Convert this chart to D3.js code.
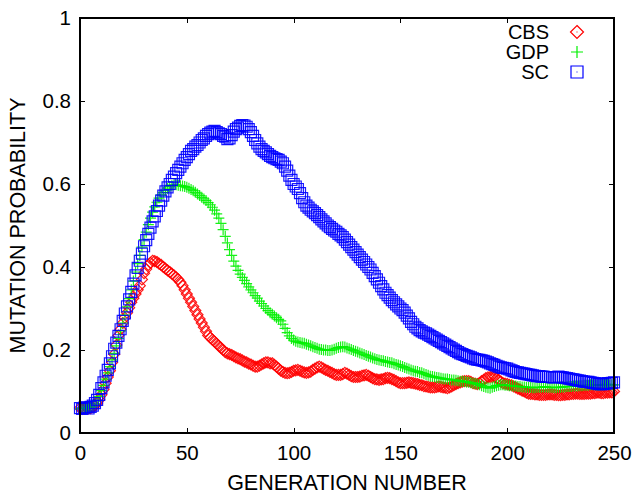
<!DOCTYPE html>
<html>
<head>
<meta charset="utf-8">
<script src="https://cdn.jsdelivr.net/npm/d3@7"></script>
<style>
  html, body { margin: 0; padding: 0; background: #fff; }
  svg { display: block; }
  text { font-family: "Liberation Sans", Arial, Helvetica, sans-serif; fill: #000; }
</style>
</head>
<body>
<svg id="chart" width="637" height="494"></svg>
<script>
// ---------------- DATA ----------------
const generations = d3.range(0, 251); // generation numbers 0..250

const cbs = [
  .060,.058,.060,.061,.059,.060,.062,.066,.072,.080,
  .092,.105,.120,.135,.150,.170,.190,.212,.235,.250,
  .265,.278,.290,.302,.315,.325,.335,.345,.355,.370,
  .385,.395,.405,.410,.415,.414,.412,.408,.405,.400,
  .396,.392,.388,.384,.380,.375,.370,.363,.355,.345,
  .335,.325,.315,.305,.295,.285,.275,.265,.255,.245,
  .235,.230,.225,.220,.215,.210,.205,.200,.195,.192,
  .190,.188,.185,.182,.180,.178,.175,.172,.170,.167,
  .165,.162,.160,.160,.162,.165,.168,.170,.170,.168,
  .168,.164,.160,.155,.150,.147,.145,.144,.145,.147,
  .150,.151,.152,.150,.148,.146,.145,.146,.148,.152,
  .155,.158,.160,.158,.155,.152,.150,.147,.145,.142,
  .140,.140,.140,.142,.145,.143,.140,.137,.135,.135,
  .135,.136,.138,.139,.140,.138,.135,.132,.130,.129,
  .128,.129,.130,.132,.133,.132,.130,.128,.125,.122,
  .120,.120,.120,.121,.122,.121,.120,.119,.118,.116,
  .115,.113,.112,.111,.110,.110,.110,.111,.112,.111,
  .110,.109,.108,.110,.112,.115,.118,.120,.122,.124,
  .125,.125,.125,.123,.120,.119,.118,.120,.125,.128,
  .132,.134,.135,.135,.135,.132,.128,.124,.120,.119,
  .118,.116,.115,.112,.110,.107,.105,.102,.100,.097,
  .095,.094,.094,.093,.093,.092,.092,.092,.092,.093,
  .093,.093,.092,.092,.091,.091,.092,.092,.093,.093,
  .094,.094,.095,.095,.094,.094,.094,.095,.095,.095,
  .096,.096,.097,.097,.096,.096,.097,.097,.098,.098,
  .100
];

const gdp = [
  .058,.060,.062,.059,.061,.063,.065,.070,.078,.088,
  .102,.115,.130,.145,.160,.176,.192,.210,.228,.246,
  .265,.284,.304,.324,.345,.366,.388,.408,.428,.448,
  .466,.484,.502,.518,.532,.545,.556,.566,.574,.580,
  .585,.590,.594,.596,.598,.598,.597,.596,.595,.594,
  .592,.590,.587,.584,.580,.576,.572,.568,.564,.560,
  .555,.550,.544,.537,.528,.518,.505,.490,.474,.458,
  .442,.428,.414,.402,.392,.383,.375,.368,.360,.352,
  .345,.338,.331,.325,.318,.312,.306,.300,.295,.290,
  .286,.282,.278,.274,.270,.262,.252,.242,.234,.228,
  .224,.221,.219,.218,.217,.216,.214,.212,.210,.208,
  .206,.204,.202,.201,.200,.200,.199,.199,.200,.202,
  .204,.206,.207,.208,.207,.205,.203,.201,.199,.197,
  .195,.193,.191,.189,.187,.185,.183,.181,.179,.177,
  .176,.175,.174,.172,.171,.170,.169,.167,.165,.164,
  .162,.160,.158,.156,.154,.152,.150,.149,.148,.146,
  .145,.143,.141,.139,.137,.136,.135,.134,.133,.132,
  .131,.130,.130,.129,.128,.128,.127,.126,.125,.125,
  .124,.123,.122,.121,.120,.119,.118,.116,.114,.112,
  .110,.109,.108,.110,.112,.114,.115,.116,.116,.115,
  .115,.114,.114,.113,.113,.112,.112,.111,.111,.110,
  .110,.110,.109,.109,.110,.110,.110,.111,.111,.110,
  .110,.110,.109,.109,.110,.110,.111,.111,.112,.112,
  .112,.113,.113,.113,.114,.114,.115,.115,.115,.116,
  .116,.116,.115,.115,.116,.116,.117,.117,.116,.116,
  .116
];

const sc = [
  .060,.058,.061,.062,.059,.063,.066,.072,.080,.092,
  .108,.122,.138,.152,.168,.185,.203,.218,.234,.250,
  .270,.288,.305,.322,.340,.360,.380,.398,.415,.432,
  .450,.465,.480,.495,.510,.522,.535,.548,.560,.572,
  .582,.592,.600,.610,.618,.626,.634,.642,.650,.658,
  .665,.672,.680,.684,.690,.694,.700,.706,.710,.716,
  .720,.724,.726,.728,.725,.722,.720,.716,.714,.708,
  .710,.718,.726,.732,.736,.740,.742,.741,.738,.732,
  .725,.716,.706,.698,.690,.684,.680,.676,.672,.668,
  .665,.662,.660,.658,.654,.650,.642,.632,.620,.610,
  .600,.594,.588,.578,.566,.556,.548,.543,.538,.534,
  .530,.525,.520,.515,.510,.505,.500,.496,.492,.488,
  .485,.480,.476,.472,.466,.460,.454,.448,.442,.436,
  .430,.424,.418,.412,.406,.400,.394,.386,.378,.370,
  .362,.354,.346,.338,.332,.326,.320,.315,.310,.305,
  .300,.296,.290,.283,.276,.268,.262,.256,.252,.248,
  .245,.242,.240,.237,.234,.231,.228,.225,.222,.219,
  .216,.213,.210,.207,.204,.201,.198,.195,.192,.190,
  .188,.186,.184,.182,.180,.178,.177,.176,.175,.174,
  .172,.170,.168,.166,.164,.162,.160,.158,.157,.156,
  .155,.153,.151,.149,.147,.146,.145,.144,.143,.142,
  .141,.140,.139,.138,.137,.137,.136,.136,.135,.135,
  .135,.134,.134,.135,.136,.135,.134,.133,.132,.131,
  .130,.129,.128,.127,.126,.125,.124,.123,.123,.122,
  .121,.120,.119,.118,.118,.118,.119,.120,.120,.121,
  .122
];

const seriesNames = ["CBS", "GDP", "SC"];
const seriesColors = ["#ff0000", "#00f000", "#0000ff"];
const xTicks = [0, 50, 100, 150, 200, 250];
const xTickLabels = ["0", "50", "100", "150", "200", "250"];
const yTicks = [0, 0.2, 0.4, 0.6, 0.8, 1];
const yTickLabels = ["0", "0.2", "0.4", "0.6", "0.8", "1"];
const xTitle = "GENERATION NUMBER";
const yTitle = "MUTATION PROBABILITY";

// ---------------- LAYOUT ----------------
const svg = d3.select("#chart");
const plot = { left: 80, right: 614, top: 18, bottom: 433 };

const x = d3.scaleLinear().domain([0, 250]).range([plot.left, plot.right]);
const y = d3.scaleLinear().domain([0, 1]).range([plot.bottom, plot.top]);

// marker shapes (relative to the point)
const markerPaths = {
  CBS: s => `M0,${-s}L${s},0L0,${s}L${-s},0Z`,
  GDP: s => `M${-s},0H${s}M0,${-s}V${s}`,
  SC:  s => `M${-s},${-s}H${s}V${s}H${-s}Z`
};
const markerSizes = { CBS: 5.5, GDP: 5.5, SC: 5.5 };

// ---------------- AXES ----------------
const tickFont = "20.5px";

const gx = svg.append("g")
  .attr("transform", `translate(0,${plot.bottom})`)
  .call(d3.axisBottom(x).tickValues(xTicks)
    .tickFormat((d, i) => xTickLabels[i])
    .tickSize(-5).tickPadding(12.5));
const gy = svg.append("g")
  .attr("transform", `translate(${plot.left},0)`)
  .call(d3.axisLeft(y).tickValues(yTicks)
    .tickFormat((d, i) => yTickLabels[i])
    .tickSize(-5).tickPadding(9));
const gt = svg.append("g")
  .attr("transform", `translate(0,${plot.top})`)
  .call(d3.axisTop(x).tickValues(xTicks).tickFormat("").tickSize(-5));
const gr = svg.append("g")
  .attr("transform", `translate(${plot.right},0)`)
  .call(d3.axisRight(y).tickValues(yTicks).tickFormat("").tickSize(-5));

[gx, gy, gt, gr].forEach(g => {
  g.attr("font-family", null).attr("font-size", null);
  g.select(".domain").remove();
  g.selectAll("line").attr("stroke", "#000").attr("stroke-width", 1).attr("shape-rendering", "crispEdges");
  g.selectAll("text").style("font-size", tickFont).attr("fill", "#000");
});

// ---------------- SERIES ----------------
const allSeries = [cbs, gdp, sc];
const marks = svg.append("g");

allSeries.forEach((vals, si) => {
  const name = seriesNames[si];
  const s = markerSizes[name];
  marks.append("g")
    .selectAll("path")
    .data(vals.map((v, i) => ({ g: generations[i], v })))
    .join("path")
    .attr("transform", d => `translate(${x(d.g)},${y(d.v)})`)
    .attr("d", markerPaths[name](s))
    .attr("fill", "none")
    .attr("stroke", seriesColors[si])
    .attr("stroke-width", 1.2)
    .attr("stroke-opacity", 0.9);
});

// ---------------- FRAME ----------------
svg.append("rect")
  .attr("x", plot.left).attr("y", plot.top)
  .attr("width", plot.right - plot.left).attr("height", plot.bottom - plot.top)
  .attr("fill", "none").attr("stroke", "#000").attr("stroke-width", 1.2)
  .attr("shape-rendering", "crispEdges");

// ---------------- LEGEND ----------------
const legend = svg.append("g");
const legendRows = [32, 52, 72];
seriesNames.forEach((name, i) => {
  legend.append("text")
    .attr("x", 549).attr("y", legendRows[i])
    .attr("dy", "0.35em")
    .attr("text-anchor", "end")
    .style("font-size", "20px")
    .text(name);
  legend.append("path")
    .attr("transform", `translate(577,${legendRows[i]})`)
    .attr("d", markerPaths[name](name === "CBS" ? 6.5 : 6))
    .attr("fill", "none")
    .attr("stroke", seriesColors[i])
    .attr("stroke-width", 1.2);
  if (name !== "GDP") {
    legend.append("rect")
      .attr("x", 576.5).attr("y", legendRows[i] - 0.5)
      .attr("width", 1).attr("height", 1)
      .attr("fill", seriesColors[i]);
  }
});

// ---------------- TITLES ----------------
svg.append("text")
  .attr("x", (plot.left + plot.right) / 2).attr("y", 490)
  .attr("text-anchor", "middle")
  .style("font-size", "21.5px")
  .text(xTitle);

svg.append("text")
  .attr("transform", `translate(25,${(plot.top + plot.bottom) / 2}) rotate(-90)`)
  .attr("text-anchor", "middle")
  .style("font-size", "21.5px")
  .text(yTitle);
</script>
</body>
</html>
